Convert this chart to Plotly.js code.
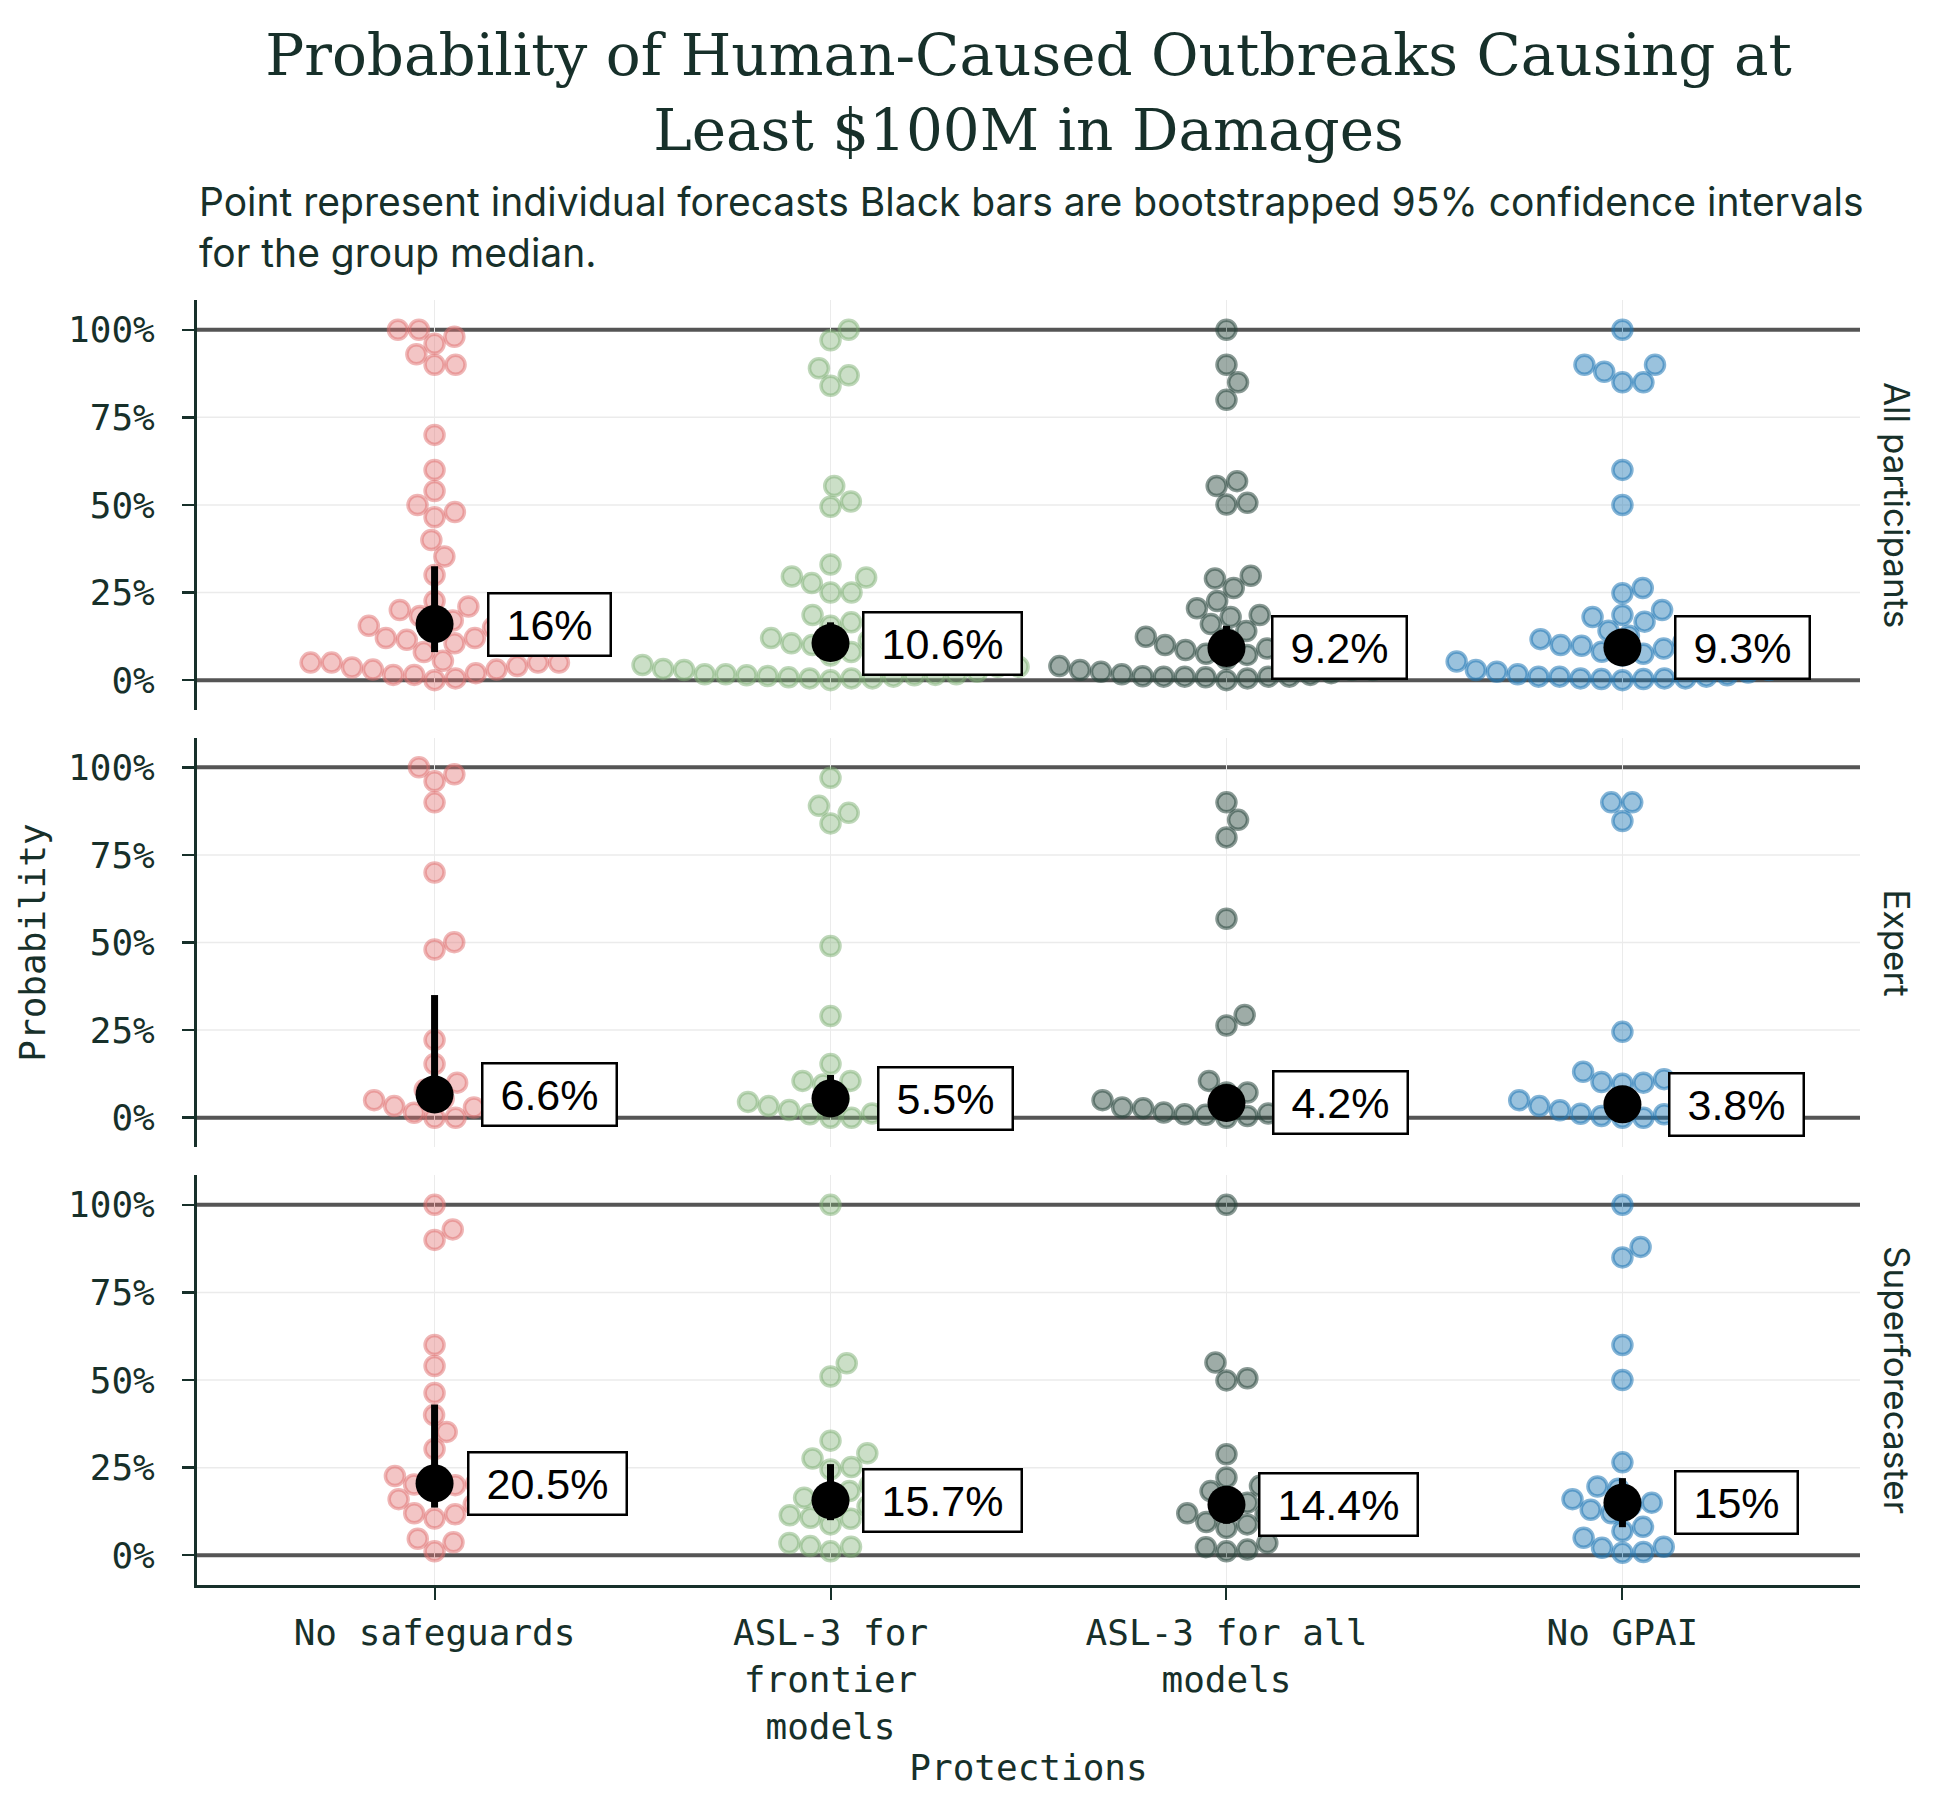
<!DOCTYPE html>
<html>
<head>
<meta charset="utf-8">
<script src="https://cdn.plot.ly/plotly-3.0.1.min.js"></script>
<style>
  html, body { margin: 0; padding: 0; background: #ffffff; }
  #myDiv { width: 1950px; height: 1800px; }
</style>
</head>
<body>
<div id="myDiv"></div>
<script>
// categories and facet rows
const categories = ['No safeguards', 'ASL-3 for<br>frontier<br>models', 'ASL-3 for all<br>models', 'No GPAI'];
const groups = ['All participants', 'Expert', 'Superforecaster'];

// individual forecasts (%)
const allNoSafeguards = [100, 100, 98, 96, 93, 90, 90, 70, 60, 54, 50, 48, 46.5, 40, 35.3, 30, 22.6, 21, 20, 18.3, 17, 16, 15.5, 15, 14, 12, 11.5, 12, 10.5, 8, 5, 5, 3.6, 3, 5, 5.5, 5, 4, 1.5, 0.5, 3, 1.5, 2, 0];
const allFrontier = [100, 97, 89, 87, 84, 55.4, 51, 49.5, 33, 29.6, 29.3, 27.7, 25, 25, 18.6, 16.5, 15.5, 12, 11.3, 10, 11.7, 10.5, 8, 7, 4.3, 3.8, 2.9, 2.4, 3.2, 1.4, 3.8, 0.5, 0, 0.5, 1.7, 0.5, 1.7, 1.4, 1.7, 1, 1.5, 0.8, 1.2];
const allAllModels = [100, 90, 85, 80, 56.8, 55.4, 50.1, 50.6, 29.8, 29, 26.3, 22.6, 20.5, 18.6, 18, 16, 14, 12.4, 12, 11, 10, 10, 9, 8.6, 7.5, 7.2, 6, 4, 2.9, 2.9, 2.9, 2.4, 2, 1.7, 3.5, 1.5, 1.1, 1, 1, 1, 1, 0.8, 0.5, 0];
const allNoGpai = [100, 90, 90, 88, 85, 85, 60, 50, 26.3, 24.8, 20, 18.6, 18, 16.7, 14.1, 13.2, 12.7, 11.7, 11, 10, 9.8, 9, 8.1, 7.5, 7, 5.3, 5.3, 2.9, 2.9, 2.4, 2.2, 1.7, 1.4, 1, 1, 1, 0.5, 0.5, 0.5, 0.3, 0.3, 0];

const expNoSafeguards = [100, 98, 96, 90, 70, 50.1, 48, 22.2, 15.3, 10, 8, 6.6, 5.4, 5, 4, 3.3, 2.9, 1.4, 0, 0];
const expFrontier = [97, 89, 87, 84, 49, 29, 15.3, 10.5, 10.5, 9.5, 6, 5.5, 4.5, 3.3, 3.3, 2.9, 2.2, 1.2, 1, 0, 0];
const expAllModels = [90, 85, 80, 56.8, 29.3, 26.3, 10.5, 7.2, 7.2, 5.3, 5, 4.2, 2.9, 2.7, 2.7, 2.2, 1.5, 1.2, 1, 0.8, 0.5, 0];
const expNoGpai = [90, 90, 84.7, 24.5, 13.1, 11, 10.2, 10, 9.7, 5, 3.8, 3.3, 2.9, 2.1, 1.6, 1.1, 1, 0.5, 0, 0];

const supNoSafeguards = [100, 93, 90, 60, 54, 46.3, 40, 35.2, 30.3, 22.6, 20.5, 20.2, 20, 18.8, 16, 14.5, 12, 11.7, 10.5, 4.7, 3.7, 1.1];
const supFrontier = [100, 54.8, 51, 32.7, 29.1, 27.6, 25.2, 24.5, 20, 18.3, 16.4, 15.7, 14, 11.4, 10.7, 10.4, 8.8, 3.5, 2.6, 2.4, 1.1];
const supAllModels = [100, 55, 50.5, 49.9, 28.8, 22.2, 19.8, 18.3, 15, 14.4, 12.1, 12, 11.7, 9.5, 8.8, 7.8, 3.5, 2.3, 1.6, 1.1];
const supNoGpai = [100, 88, 85, 60, 50, 26.5, 19.6, 19, 16, 15, 14.2, 13, 12, 8.1, 6.9, 5, 2.4, 2.1, 0.9, 0.7];

const forecasts = [
    [allNoSafeguards, allFrontier, allAllModels, allNoGpai],
    [expNoSafeguards, expFrontier, expAllModels, expNoGpai],
    [supNoSafeguards, supFrontier, supAllModels, supNoGpai]
];

// group medians and bootstrapped 95% CI
const medians = [[16, 10.6, 9.2, 9.3], [6.6, 5.5, 4.2, 3.8], [20.5, 15.7, 14.4, 15]];
const ciLow = [[8, 7, 5, 5.5], [3, 3, 2, 2], [13.6, 10, 9, 8]];
const ciHigh = [[32.5, 16.5, 15.5, 13], [35, 12.2, 7, 6], [43, 26, 16, 22]];

const yTickVals = [0, 25, 50, 75, 100];
const yTickText = ['0%', '25%', '50%', '75%', '100%'];

// styling
const fillColors = ['rgba(224,110,110,0.40)', 'rgba(125,175,115,0.40)', 'rgba(40,70,60,0.45)', 'rgba(31,119,180,0.45)'];
const edgeColors = ['rgba(224,110,110,0.50)', 'rgba(125,175,115,0.50)', 'rgba(40,70,60,0.55)', 'rgba(31,119,180,0.55)'];
const labelShift = [[52, 31, 45, 52], [46, 46, 46, 46], [32, 31, 32, 52]];
const ink = '#17302a';
const gridGrey = '#ebebeb';
const mono = 'DejaVu Sans Mono, monospace';
const sans = 'Inter, Liberation Sans, sans-serif';

const W = 1950, H = 1800;
const margin = {l: 197, r: 90, t: 300, b: 215};
const xRange = [-0.6, 3.6];
const yRange = [-8.5, 108.5];
const domains = [[0.681, 1], [0.3405, 0.6595], [0, 0.319]];

const plotW = W - margin.l - margin.r;
const plotH = H - margin.t - margin.b;
const pxPerX = plotW / (xRange[1] - xRange[0]);
const pxPerY = plotH * (domains[0][1] - domains[0][0]) / (yRange[1] - yRange[0]);

// simple beeswarm: place each point at the smallest offset free of overlaps
function swarmOffsets(values, diam) {
    const idx = values.map((v, i) => i).sort((a, b) => values[a] - values[b]);
    const placed = [];
    const out = new Array(values.length);
    idx.forEach(i => {
        const y = values[i] * pxPerY;
        const cands = [0];
        placed.forEach(p => {
            const dy = y - p.y;
            if (Math.abs(dy) < diam) {
                const dx = Math.sqrt(diam * diam - dy * dy);
                cands.push(p.x + dx, p.x - dx);
            }
        });
        cands.sort((a, b) => Math.abs(a) - Math.abs(b));
        let x = cands[0];
        for (const c of cands) {
            const ok = placed.every(p => (c - p.x) * (c - p.x) + (y - p.y) * (y - p.y) >= diam * diam - 0.01);
            if (ok) { x = c; break; }
        }
        placed.push({x: x, y: y});
        out[i] = x / pxPerX;
    });
    return out;
}

// rough Arial width of a label, em units
function labelWidth(txt, size) {
    let w = 0;
    for (const ch of txt) {
        w += ch === '%' ? 0.889 : (ch === '.' ? 0.278 : 0.556);
    }
    return w * size;
}

const data = [];
const annotations = [];
const shapes = [];

groups.forEach((g, r) => {
    const xa = r === 0 ? 'x' : 'x' + (r + 1);
    const ya = r === 0 ? 'y' : 'y' + (r + 1);

    forecasts[r].forEach((vals, c) => {
        const offs = swarmOffsets(vals, 21);
        data.push({
            type: 'scatter',
            mode: 'markers',
            x: offs.map(o => c + o),
            y: vals,
            xaxis: xa,
            yaxis: ya,
            marker: {size: 19, color: fillColors[c], line: {color: edgeColors[c], width: 3.5}},
            hoverinfo: 'skip',
            showlegend: false
        });
    });

    data.push({
        type: 'scatter',
        mode: 'markers',
        x: [0, 1, 2, 3],
        y: medians[r],
        xaxis: xa,
        yaxis: ya,
        marker: {size: 38, color: '#000000'},
        error_y: {
            type: 'data',
            symmetric: false,
            array: medians[r].map((m, c) => ciHigh[r][c] - m),
            arrayminus: medians[r].map((m, c) => m - ciLow[r][c]),
            color: '#000000',
            thickness: 7,
            width: 0
        },
        hoverinfo: 'skip',
        showlegend: false
    });

    medians[r].forEach((m, c) => {
        const txt = m + '%';
        annotations.push({
            xref: xa, yref: ya, x: c, y: m,
            xanchor: 'left', yanchor: 'middle',
            xshift: labelShift[r][c],
            text: txt,
            showarrow: false,
            font: {family: 'Liberation Sans, Arial, sans-serif', size: 43, color: '#000000'},
            bgcolor: '#ffffff',
            bordercolor: '#000000',
            borderwidth: 2.5,
            borderpad: 3,
            width: labelWidth(txt, 43) + 28,
            height: 54
        });
    });

    // row label on the right
    annotations.push({
        xref: 'paper', yref: ya + ' domain', x: 1, y: 0.5,
        xanchor: 'left', yanchor: 'middle', xshift: 14,
        text: g, textangle: 90, showarrow: false,
        font: {family: sans, size: 35, color: ink}
    });

    // light horizontal grid, then heavy 0% / 100% rules
    yTickVals.forEach(v => {
        const heavy = v === 0 || v === 100;
        shapes.push({
            type: 'line', xref: 'paper', yref: ya, x0: 0, x1: 1, y0: v, y1: v,
            line: {color: heavy ? '#555555' : gridGrey, width: heavy ? 4 : 1.5},
            layer: 'below'
        });
    });
});

// subtitle
annotations.push({
    xref: 'paper', yref: 'paper', x: 0, y: 1.057,
    xanchor: 'left', yanchor: 'middle', align: 'left',
    text: 'Point represent individual forecasts Black bars are bootstrapped 95% confidence intervals<br>for the group median.',
    showarrow: false,
    font: {family: sans, size: 39, color: ink}
});

var layout = {
    width: W,
    height: H,
    margin: margin,
    paper_bgcolor: '#ffffff',
    plot_bgcolor: '#ffffff',
    title: {
        text: 'Probability of Human-Caused Outbreaks Causing at<br>Least $100M in Damages',
        font: {family: 'DejaVu Serif, Liberation Serif, serif', size: 58, color: ink},
        xref: 'paper', x: 0.5, xanchor: 'center',
        yref: 'container', y: 1 - 75 / H, yanchor: 'top'
    },
    annotations: annotations,
    shapes: shapes
};

groups.forEach((g, r) => {
    const xk = r === 0 ? 'xaxis' : 'xaxis' + (r + 1);
    const yk = r === 0 ? 'yaxis' : 'yaxis' + (r + 1);
    const bottom = r === groups.length - 1;
    layout[xk] = {
        domain: [0, 1],
        anchor: r === 0 ? 'y' : 'y' + (r + 1),
        range: xRange,
        tickvals: [0, 1, 2, 3],
        ticktext: categories,
        showticklabels: bottom,
        ticks: bottom ? 'outside' : '',
        ticklen: 12,
        tickwidth: 2,
        tickcolor: ink,
        showline: bottom,
        linecolor: ink,
        linewidth: 3,
        showgrid: true,
        gridcolor: gridGrey,
        gridwidth: 1.5,
        zeroline: false,
        tickfont: {family: mono, size: 36, color: ink},
        ticklabelstandoff: 2,
        fixedrange: true
    };
    if (r > 0) layout[xk].matches = 'x';
    if (bottom) layout[xk].title = {text: 'Protections', font: {family: mono, size: 36, color: ink}, standoff: 0};

    layout[yk] = {
        domain: domains[r],
        anchor: r === 0 ? 'x' : 'x' + (r + 1),
        range: yRange,
        tickvals: yTickVals,
        ticktext: yTickText,
        ticks: 'outside',
        ticklen: 12,
        tickwidth: 2.5,
        tickcolor: ink,
        showline: true,
        linecolor: ink,
        linewidth: 3,
        showgrid: false,
        zeroline: false,
        tickfont: {family: mono, size: 36, color: ink},
        ticklabelstandoff: 20,
        fixedrange: true
    };
    if (r === 1) layout[yk].title = {text: 'Probability', font: {family: mono, size: 36, color: ink}, standoff: 12};
});

var config = {
    displayModeBar: false,
    responsive: false,
    staticPlot: true
};

Plotly.newPlot('myDiv', data, layout, config);
</script>
</body>
</html>
